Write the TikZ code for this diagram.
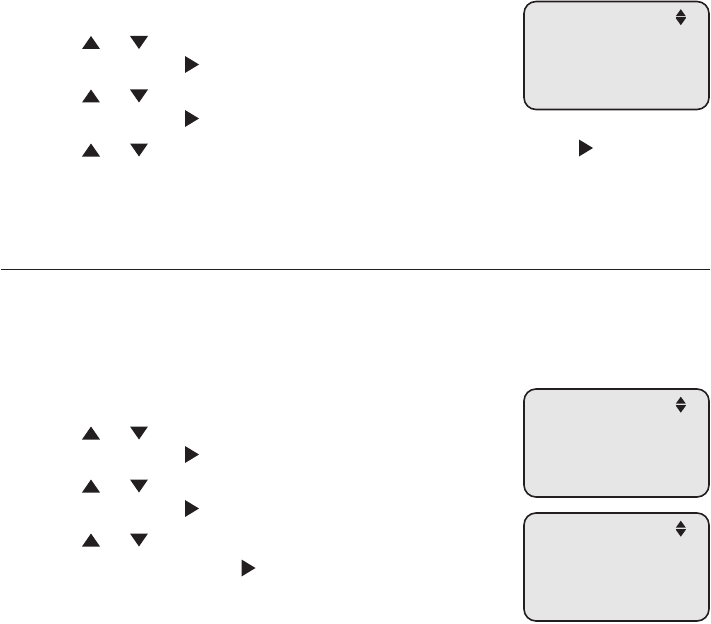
\documentclass[tikz,border=0pt]{standalone}
\usetikzlibrary{positioning}
\definecolor{ink}{HTML}{231F20}
\definecolor{lcd}{HTML}{E6E6E6}
\tikzset{
  uptri/.pic={\fill[ink] (-9,6.5) -- (9,6.5) -- (0,-6.5) -- cycle;},
  dntri/.pic={\fill[ink] (-9,-6.5) -- (9,-6.5) -- (0,6.5) -- cycle;},
  rttri/.pic={\fill[ink] (-7,-8.5) -- (-7,8.5) -- (7,0) -- cycle;},
  updn/.pic={
    \fill[ink] (-5,-1) -- (5,-1) -- (0,-8) -- cycle;
    \draw[ink,line width=0.4pt] (-5,0) -- (5,0);
    \fill[ink] (-5,1) -- (5,1) -- (0,8) -- cycle;
  },
  screen/.style={draw=ink,fill=lcd,line width=1.6pt,rounded corners=12pt,
    inner sep=0pt,minimum width=185pt,minimum height=108pt}
}
\begin{document}
\begin{tikzpicture}[x=1pt,y=-1pt]
    \useasboundingbox (0,0) rectangle (711,623);

    % --- Top part: scroll keys ---
    \foreach \y in {42.5, 96, 150} {
      \pic at (91,\y) {uptri};
      \pic at (139,\y) {dntri};
    }
    \foreach \y in {64.5, 118.5} {
      \pic at (192,\y) {rttri};
    }
    \pic at (586,148) {rttri};

    % --- Top screen ---
    \node[screen] (scrA) at (616.5,55.5) {};
    \pic at ([xshift=-29pt,yshift=-16.5pt]scrA.north east) {updn};

    % --- Separator ---
    \coordinate (sepL) at (1,269);
    \coordinate (sepR) at (710,269);
    \draw[ink,line width=1pt] (sepL) -- (sepR);

    % --- Bottom part: scroll keys ---
    \foreach \y in {433, 486, 540} {
      \pic at (91,\y) {uptri};
      \pic at (139,\y) {dntri};
    }
    \foreach \y in {454.5, 508.5} {
      \pic at (192,\y) {rttri};
    }
    \pic at (248.5,568) {rttri};

    % --- Bottom screens ---
    \node[screen] (scrB) at (616.5,443) {};
    \node[screen] (scrC) at (616.5,567) {};
    \pic at ([xshift=-29pt,yshift=-16.5pt]scrB.north east) {updn};
    \pic at ([xshift=-29pt,yshift=-16.5pt]scrC.north east) {updn};

  \end{tikzpicture}
\end{document}
